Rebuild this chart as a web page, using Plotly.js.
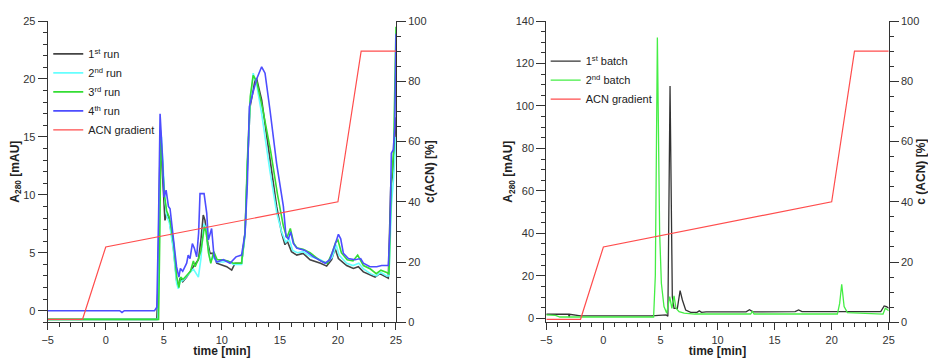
<!DOCTYPE html>
<html>
<head>
<meta charset="utf-8">
<script src="https://cdn.plot.ly/plotly-3.0.1.min.js"></script>
<style>html,body{margin:0;padding:0;background:#fff}#chart{width:928px;height:358px}</style>
</head>
<body>
<div id="chart"></div>
<script>
// ---- Left panel: four runs (time [min], A280 [mAU]) ----
const run1Time = [-5, 4.4, 4.5, 4.6, 4.7, 4.85, 4.96, 5.1, 5.25, 5.48, 5.82, 6.1, 6.25, 6.4, 6.63, 6.97, 7.55, 7.98, 8.2, 8.4, 8.55, 8.75, 8.98, 9.27, 9.56, 10.13, 10.42, 10.85, 11.14, 11.7, 12.0, 12.2, 12.43, 12.86, 13.0, 13.43, 14.15, 14.72, 15.15, 15.44, 15.64, 16.0, 16.45, 17.0, 17.6, 18.5, 19.03, 19.46, 19.75, 20.04, 20.75, 21.33, 21.76, 22.19, 22.76, 23.2, 23.6, 24.2, 24.34, 24.55, 24.77, 25];
const run1Abs  = [-0.75, -0.75, 2, 10, 15.6, 12.5, 10.1, 7.8, 8.4, 7.8, 5.5, 2.65, 2.07, 2.8, 2.5, 2.9, 3.8, 4.4, 6.1, 8.25, 7.8, 6.1, 4.95, 4.95, 4.1, 3.9, 3.8, 3.5, 4.1, 4.1, 6.7, 12.4, 17.6, 19.9, 20.0, 18.2, 13.0, 9.0, 6.7, 5.7, 6.0, 5.1, 4.8, 4.95, 4.4, 4.1, 3.85, 4.4, 5.4, 4.5, 3.9, 3.65, 3.8, 3.35, 3.1, 2.9, 3.2, 2.9, 2.8, 10.7, 12.1, 16.7];

const run2Time = [-5, 4.5, 4.6, 4.7, 4.8, 4.95, 5.1, 5.25, 5.48, 5.82, 6.1, 6.25, 6.4, 6.63, 6.97, 7.3, 7.55, 7.98, 8.2, 8.45, 8.6, 8.8, 9.0, 9.3, 9.56, 10.13, 10.5, 11.0, 11.7, 12.0, 12.2, 12.45, 12.7, 13.0, 13.43, 14.15, 14.72, 15.15, 15.5, 15.8, 16.1, 16.5, 17.0, 17.6, 18.5, 19.0, 19.5, 19.85, 20.1, 20.75, 21.3, 21.8, 22.2, 22.8, 23.3, 23.7, 24.2, 24.4, 24.6, 24.8, 25];
const run2Abs  = [-0.75, -0.75, 5, 14.5, 15.0, 11.5, 9.5, 8.2, 7.6, 5.3, 2.4, 1.9, 2.5, 2.6, 3.0, 3.3, 3.6, 2.9, 4.5, 7.5, 7.2, 5.5, 4.3, 4.6, 4.2, 4.2, 4.3, 4.0, 4.0, 6.5, 12.5, 18.0, 20.5, 19.5, 17.0, 12.0, 8.5, 6.8, 5.9, 6.2, 5.2, 5.0, 5.1, 4.7, 4.4, 4.1, 4.6, 5.7, 4.8, 4.1, 3.9, 4.1, 3.6, 3.2, 3.0, 3.3, 3.0, 3.0, 9.0, 11.5, 15.0];

const run3Time = [-5, 3.1, 3.2, 4.55, 4.65, 4.75, 4.9, 5.05, 5.25, 5.5, 5.85, 6.1, 6.3, 6.45, 6.65, 7.0, 7.3, 7.55, 7.7, 8.0, 8.2, 8.5, 8.65, 8.85, 9.05, 9.3, 9.6, 10.1, 10.5, 11.0, 11.7, 12.0, 12.2, 12.45, 12.7, 13.0, 13.5, 14.2, 14.8, 15.3, 15.6, 15.9, 16.2, 16.5, 17.0, 17.6, 18.5, 19.1, 19.5, 19.8, 20.0, 20.3, 20.8, 21.3, 21.7, 22.2, 22.8, 23.3, 23.7, 24.2, 24.4, 24.6, 24.8, 25];
const run3Abs  = [-0.75, -0.75, -0.7, -0.75, 6, 15.0, 12.5, 10.0, 8.6, 8.0, 5.8, 3.0, 2.0, 2.9, 2.7, 3.1, 3.4, 4.3, 3.8, 4.5, 5.2, 7.25, 6.8, 5.0, 4.1, 5.1, 4.4, 4.4, 4.3, 4.1, 4.1, 6.8, 13.0, 18.5, 20.3, 19.8, 17.5, 13.8, 10.0, 7.3, 6.3, 7.1, 5.8, 5.4, 5.3, 5.0, 4.3, 4.1, 5.0, 5.9, 6.1, 5.0, 4.4, 4.3, 4.8, 3.9, 3.6, 3.2, 3.5, 3.3, 3.2, 11.0, 14.0, 24.5];

const run4Time = [-5, 1.2, 1.4, 1.6, 4.2, 4.4, 4.55, 4.68, 4.9, 5.02, 5.2, 5.4, 5.54, 5.82, 6.1, 6.3, 6.43, 6.63, 6.97, 7.1, 7.26, 7.46, 7.63, 7.83, 8.0, 8.12, 8.47, 8.7, 8.84, 9.12, 9.33, 9.56, 10.13, 10.7, 11.22, 11.7, 12.0, 12.2, 12.37, 12.7, 13.0, 13.43, 13.72, 14.15, 14.72, 15.3, 15.53, 15.73, 15.93, 16.16, 16.45, 17.16, 17.9, 18.9, 19.3, 19.75, 20.04, 20.24, 20.47, 20.9, 21.47, 21.96, 22.19, 22.76, 23.34, 23.77, 24.34, 24.49, 24.6, 24.77, 24.9, 25];
const run4Abs  = [0, 0, -0.15, 0, 0, 0.3, 8, 17.0, 13, 9.8, 10.4, 9.0, 8.8, 6.1, 3.8, 2.9, 3.65, 3.4, 4.1, 4.8, 4.5, 5.8, 5.4, 4.65, 6.7, 10.1, 10.1, 8.4, 6.1, 7.1, 4.65, 4.2, 4.4, 4.1, 4.65, 4.8, 6.7, 11.0, 17.6, 18.9, 20.0, 21.05, 20.5, 17.3, 12.7, 9.0, 6.4, 6.2, 6.8, 5.8, 5.4, 5.2, 4.65, 4.1, 4.4, 5.7, 6.6, 6.2, 4.95, 4.5, 4.4, 4.5, 4.1, 3.8, 3.8, 3.9, 3.9, 7.2, 13.6, 13.9, 15.9, 23.9];

// ---- ACN gradient (time [min], c(ACN) [%]) ----
const gradTime = [-5, -2, 0, 20, 22, 25];
const gradACN  = [1, 1, 25, 40, 90, 90];

// ---- Right panel: two batches ----
const batch1Time = [-5, -3.05, -3.0, -2.95, -2, 4.2, 5.5, 5.65, 5.84, 6.04, 6.19, 6.48, 6.72, 6.92, 7.21, 7.65, 8.2, 8.4, 8.6, 9.0, 12.5, 12.8, 13.1, 16.8, 17.1, 17.4, 24.3, 24.6, 24.8, 25];
const batch1Abs  = [1.9, 1.9, 0.5, 1.9, 1.1, 1.1, 1.6, 1.0, 109.4, 10, 4.7, 4.7, 13.0, 8.6, 3.9, 2.8, 2.8, 3.5, 2.8, 3.0, 3.0, 4.0, 3.0, 3.1, 3.9, 3.1, 3.1, 5.8, 5.5, 4.8];
const batch2Time = [-5, -4.2, -3.8, 4.4, 4.55, 4.73, 4.93, 5.08, 5.31, 5.55, 5.81, 6.0, 6.19, 6.36, 6.63, 7.07, 8.0, 12.9, 13.05, 13.2, 20.5, 20.7, 20.88, 21.09, 21.38, 24.5, 24.7, 25];
const batch2Abs  = [1.6, 1.4, 0.6, 0.6, 20, 132.2, 40, 16.5, 5.5, 2.4, 10.2, 4.7, 10.5, 4.7, 3.1, 2.4, 2.0, 2.0, 3.2, 2.0, 2.0, 7, 16.0, 5.5, 2.7, 2.0, 4.7, 3.6];

const runNames = ['1<sup>st</sup> run', '2<sup>nd</sup> run', '3<sup>rd</sup> run', '4<sup>th</sup> run'];
const batchNames = ['1<sup>st</sup> batch', '2<sup>nd</sup> batch'];
const gradName = 'ACN gradient';

const FONT = 'Liberation Sans, Arial, sans-serif';
const AX = '#333';

const traces = [
  {x: run1Time, y: run1Abs, name: runNames[0], line: {color: '#444444', width: 1.6}},
  {x: run2Time, y: run2Abs, name: runNames[1], line: {color: '#66ffff', width: 1.6}},
  {x: run3Time, y: run3Abs, name: runNames[2], line: {color: '#33dd33', width: 1.6}},
  {x: run4Time, y: run4Abs, name: runNames[3], line: {color: '#4d4dff', width: 1.6}},
  {x: gradTime, y: gradACN, name: gradName, yaxis: 'y2', line: {color: '#ff4d4d', width: 1.2}},
  {x: batch1Time, y: batch1Abs, name: batchNames[0], xaxis: 'x2', yaxis: 'y3', legend: 'legend2', line: {color: '#333333', width: 1.3}},
  {x: batch2Time, y: batch2Abs, name: batchNames[1], xaxis: 'x2', yaxis: 'y3', legend: 'legend2', line: {color: '#44ee44', width: 1.3}},
  {x: gradTime, y: gradACN, name: gradName, xaxis: 'x2', yaxis: 'y4', legend: 'legend2', line: {color: '#ff4d4d', width: 1.2}}
].map(t => Object.assign({type: 'scatter', mode: 'lines'}, t));

const yDom = [0.0997, 0.9413];
function xAxis(domain, anchor) {
  return {
    domain: domain, anchor: anchor, range: [-5, 25], dtick: 5, tick0: 0,
    ticks: 'outside', ticklen: 7, tickwidth: 1, tickcolor: AX,
    minor: {dtick: 1, ticks: 'outside', ticklen: 4, tickcolor: AX},
    showline: true, linecolor: AX, linewidth: 1, showgrid: false, zeroline: false,
    tickfont: {size: 11, color: '#333'},
    title: {text: '<b>time [min]</b>', font: {size: 12, color: '#222'}, standoff: 2}
  };
}
function yAxis(range, dtick, minorDtick, anchor, title, standoff, extra) {
  return Object.assign({
    domain: yDom, anchor: anchor, range: range, dtick: dtick, tick0: 0,
    ticks: 'outside', ticklen: 9, tickwidth: 1, tickcolor: AX,
    minor: {dtick: minorDtick, ticks: 'outside', ticklen: 4, tickcolor: AX},
    showline: true, linecolor: AX, linewidth: 1, showgrid: false, zeroline: false,
    tickfont: {size: 11, color: '#333'},
    title: {text: title, font: {size: 12, color: '#222'}, standoff: standoff}
  }, extra || {});
}

const layout = {
  width: 928, height: 358,
  margin: {l: 0, r: 0, t: 0, b: 0},
  paper_bgcolor: '#fff', plot_bgcolor: '#fff',
  font: {family: FONT, size: 11, color: '#222'},
  xaxis: xAxis([0.0514, 0.4267], 'y'),
  yaxis: yAxis([-1, 25], 5, 1, 'x', '<b>A<sub>280</sub> [mAU]</b>', 0),
  yaxis2: yAxis([0, 100], 20, 5, 'x', '<b>c(ACN) [%]</b>', 0, {overlaying: 'y', side: 'right'}),
  xaxis2: xAxis([0.5887, 0.9577], 'y3'),
  yaxis3: yAxis([-1.9, 140], 20, 5, 'x2', '<b>A<sub>280</sub> [mAU]</b>', 0),
  yaxis4: yAxis([0, 100], 20, 5, 'x2', '<b>c (ACN) [%]</b>', 1, {overlaying: 'y3', side: 'right'}),
  legend: {x: 0.052, y: 0.89, xanchor: 'left', yanchor: 'top', bgcolor: 'rgba(0,0,0,0)', font: {size: 11, color: '#222'}, tracegroupgap: 0},
  legend2: {x: 0.588, y: 0.87, xanchor: 'left', yanchor: 'top', bgcolor: 'rgba(0,0,0,0)', font: {size: 11, color: '#222'}, tracegroupgap: 0},
  showlegend: true
};

Plotly.newPlot('chart', traces, layout, {displayModeBar: false, staticPlot: true});
</script>
</body>
</html>
